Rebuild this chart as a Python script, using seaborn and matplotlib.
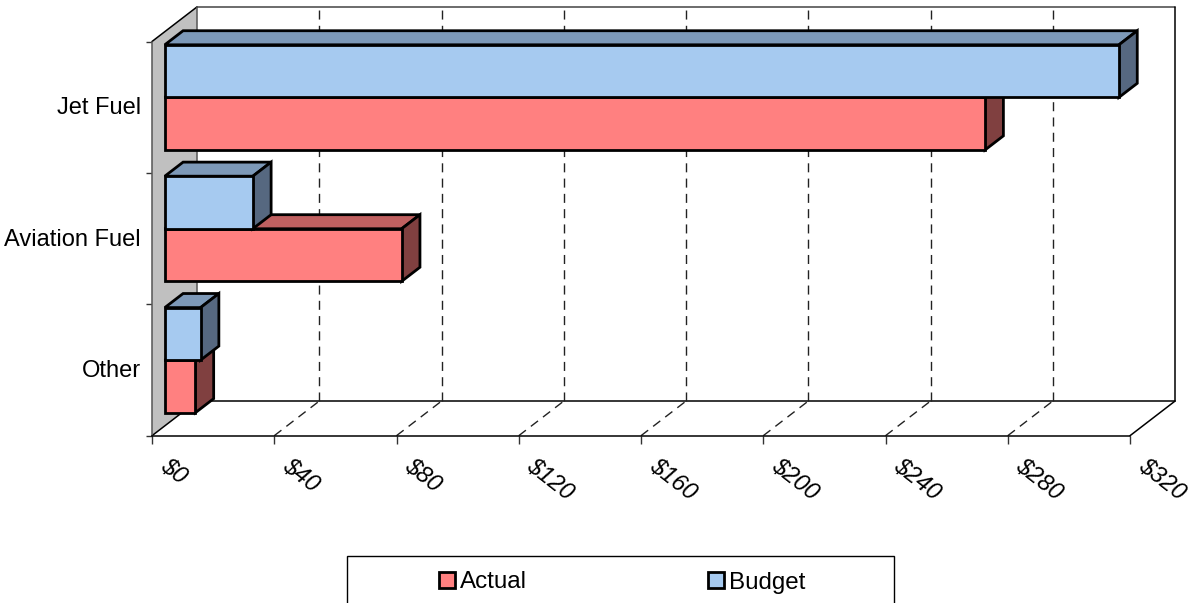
import matplotlib
matplotlib.use("Agg")
import matplotlib.pyplot as plt
import pandas as pd
import seaborn as sns
from matplotlib.patches import Patch, Polygon, Rectangle
from matplotlib.ticker import FixedLocator
from matplotlib.transforms import Affine2D, IdentityTransform

categories = ["Jet Fuel", "Aviation Fuel", "Other"]
actual = [268.4, 77.5, 10.0]
budget = [312.2, 28.8, 11.7]
x_ticks = [0, 40, 80, 120, 160, 200, 240, 280, 320]
x_tick_labels = [f"${v}" for v in x_ticks]

FRONT_COLORS = {"Actual": "#FF8080", "Budget": "#A6CAF0"}
TOP_COLORS = {"Actual": "#BF6060", "Budget": "#7D99B8"}
SIDE_COLORS = {"Actual": "#804040", "Budget": "#566880"}
WIDTH, HEIGHT = 1194, 603
EDGE_LW = 2.0

sns.set_theme(style="white")
plt.rcParams["font.family"] = ["Liberation Sans", "DejaVu Sans"]

df = pd.DataFrame({
    "Category": categories * 2,
    "Series": ["Budget"] * 3 + ["Actual"] * 3,
    "Value": budget + actual,
})

fig = plt.figure(figsize=(WIDTH / 100, HEIGHT / 100), dpi=100, facecolor="white")
ax = fig.add_axes([152.0 / WIDTH, 1 - 435.7 / HEIGHT, 978 / WIDTH, 394.2 / HEIGHT])
ax.patch.set_visible(False)

sns.barplot(
    data=df, y="Category", x="Value", hue="Series", order=categories,
    hue_order=["Budget", "Actual"], palette=FRONT_COLORS, width=0.8, saturation=1,
    edgecolor="black", linewidth=EDGE_LW, legend=False, ax=ax,
)
ax.set_xlim(0, 320)
ax.set_ylim(2.5, -0.5)
ax.set_xlabel("")
ax.set_ylabel("")


def plane(depth):
    """Display transform for a plane lying `depth` of the way to the back wall."""
    return ax.transData + Affine2D().translate(45 * depth, 34.6 * depth)


def to_px(depth, points):
    return plane(depth).transform(points)


def poly(points, face, z, edge="black", lw=EDGE_LW):
    ax.add_patch(Polygon(points, closed=True, facecolor=face, edgecolor=edge, linewidth=lw,
                         joinstyle="miter", transform=IdentityTransform(), clip_on=False, zorder=z))


def line(p, q, z=1.5, **kw):
    style = dict(color="black", lw=1.1, clip_on=False, zorder=z, transform=IdentityTransform())
    style.update(kw)
    ax.plot([p[0], q[0]], [p[1], q[1]], **style)


# Side wall, floor and back wall frame
ymin, ymax = 2.5, -0.5
(fl_b, fl_t) = to_px(0, [(0, ymin), (0, ymax)])
(bk_b, bk_t) = to_px(1, [(0, ymin), (0, ymax)])
poly([fl_b, fl_t, bk_t, bk_b], "#C0C0C0", 1, edge="none", lw=0)
line(fl_t, bk_t)
line(fl_b, bk_b)
line(fl_t, fl_b, color="#555555")
line(bk_t, bk_b, color="#555555")
br_b, br_t = to_px(1, [(320, ymin), (320, ymax)])
fr_b = to_px(0, [(320, ymin)])[0]
line(bk_b, br_b)
line(bk_t, br_t, color="#444444")
line(br_b, br_t)
line(fr_b, br_b)

# Dashed gridlines across the floor and up the back wall
for v in x_ticks[1:-1]:
    front = to_px(0, [(v, ymin)])[0]
    back_b, back_t = to_px(1, [(v, ymin), (v, ymax)])
    line(front, back_b, lw=1.0, ls=(0, (6.5, 4.5)), color="#222222")
    line(back_b, back_t, lw=1.0, ls=(0, (6.5, 4.5)), color="#222222")

# Bars: shift the seaborn rectangles into their plane and extrude them backwards
BAR_DEPTH = 12.8 / 45
BACK_DEPTH = BAR_DEPTH + 18.3 / 45
series_order = ["Budget", "Actual"]
for name, container in zip(series_order, ax.containers):
    z = 4 if name == "Budget" else 3
    for bar in container:
        x0, x1 = bar.get_x(), bar.get_x() + bar.get_width()
        y0, y1 = bar.get_y(), bar.get_y() + bar.get_height()
        near = to_px(BAR_DEPTH, [(x0, y0), (x1, y0), (x1, y1)])
        far = to_px(BACK_DEPTH, [(x0, y0), (x1, y0), (x1, y1)])
        poly([near[0], near[1], far[1], far[0]], TOP_COLORS[name], z)
        poly([near[1], near[2], far[2], far[1]], SIDE_COLORS[name], z)
        bar.set_transform(plane(BAR_DEPTH))
        bar.set_clip_on(False)
        bar.set_zorder(z + 0.5)
        bar.set_joinstyle("miter")

# Axes furniture on the front plane
for side in ("top", "right"):
    ax.spines[side].set_visible(False)
ax.spines["left"].set_visible(False)
ax.spines["bottom"].set_color("black")
ax.spines["bottom"].set_linewidth(1.1)
ax.spines["bottom"].set_zorder(1.5)

ax.set_xticks(x_ticks, x_tick_labels, rotation=-38, ha="left", va="center",
              rotation_mode="anchor", fontsize=17, color="black", style="italic")
ax.tick_params(axis="x", which="major", bottom=True, length=6, width=1.0, pad=0, color="#333333")
for label in ax.get_xticklabels():
    label.set_transform(label.get_transform() + Affine2D().translate(11, -19))

ax.yaxis.set_minor_locator(FixedLocator([-0.5, 0.5, 1.5, 2.5]))
ax.tick_params(axis="y", which="major", left=False, length=0, pad=8, labelsize=17, labelcolor="black")
ax.tick_params(axis="y", which="minor", left=True, length=4, width=1.0, color="#333333")
for label in ax.get_yticklabels():
    label.set_transform(label.get_transform() + Affine2D().translate(0, 1.5))

# Legend: its frame runs off the lower edge of the canvas
fig.add_artist(Rectangle((347.5 / WIDTH, -0.05), 546 / WIDTH, 1 - 556 / HEIGHT + 0.05,
                         transform=fig.transFigure, facecolor="white", edgecolor="black", linewidth=1.0))
handles = [Patch(facecolor=FRONT_COLORS[s], edgecolor="black", linewidth=EDGE_LW, label=s)
           for s in ("Actual", "Budget")]
fig.legend(handles=handles, ncol=2, frameon=False, fontsize=17.4, loc="center left",
           bbox_to_anchor=(439 / WIDTH, 1 - 582.5 / HEIGHT), borderpad=0, borderaxespad=0,
           handlelength=0.66, handleheight=0.66, handletextpad=0.22, columnspacing=7.46,
           labelcolor="black")

fig.savefig("out.png", dpi=100)
